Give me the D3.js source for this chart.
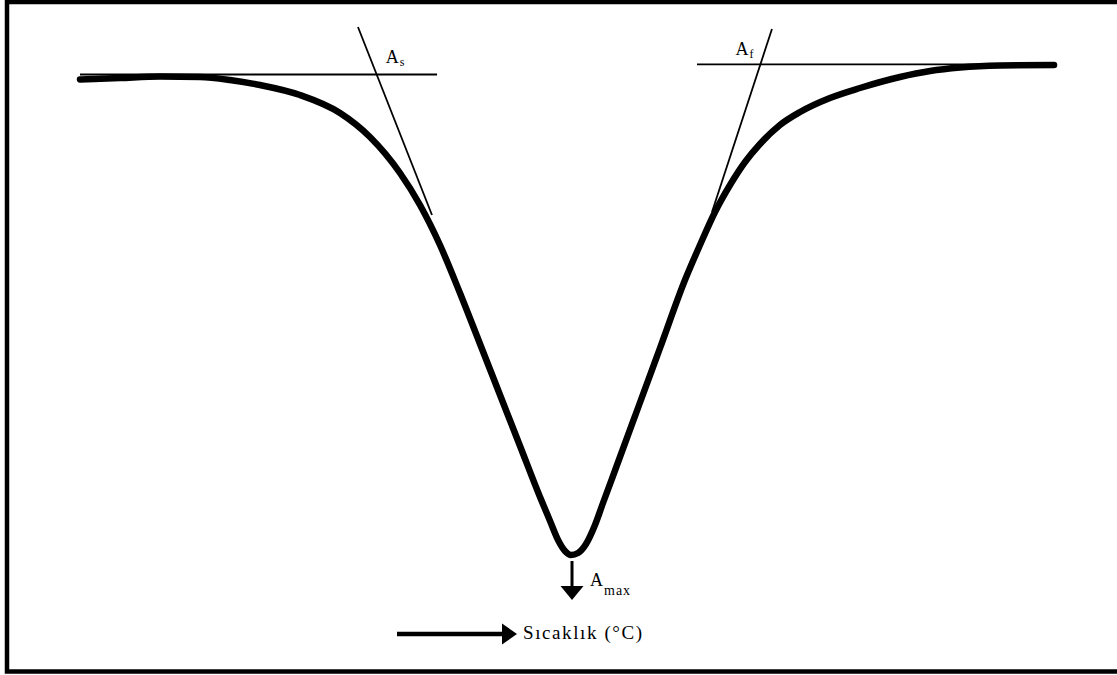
<!DOCTYPE html>
<html>
<head>
<meta charset="utf-8">
<title>DSC eğrisi</title>
<script src="https://cdn.jsdelivr.net/npm/d3@7"></script>
<style>
  html, body { margin: 0; padding: 0; background: #fff; }
  svg { display: block; }
  text { font-family: "Liberation Serif", "Times New Roman", serif; fill: #000; }
</style>
</head>
<body>
<svg id="chart" width="1117" height="675"></svg>
<script>
// Sıcaklık (°C) values of the measured trace
const temperature = [
  20.00, 24.10, 28.21, 32.31, 35.38, 38.46, 42.56, 46.67, 49.74, 52.82,
  54.87, 56.92, 58.97, 61.03, 63.08, 65.13, 67.18, 68.21, 69.03, 69.74,
  70.36, 71.08, 71.90, 72.82, 73.64, 75.08, 77.23, 79.49, 82.05, 83.59,
  85.13, 86.67, 88.21, 89.74, 91.79, 93.85, 96.92, 100.00, 104.10, 107.18,
  110.26, 114.36, 119.90
];
// Heat flow (arbitrary units, endothermic downward)
const heatFlow = [
  -0.195, -0.18, -0.165, -0.17, -0.20, -0.25, -0.35, -0.53, -0.77, -1.13,
  -1.45, -1.85, -2.33, -2.84, -3.35, -3.86, -4.37, -4.61, -4.80, -4.91,
  -4.95, -4.93, -4.84, -4.65, -4.43, -4.05, -3.48, -2.88, -2.20, -1.85,
  -1.52, -1.25, -1.02, -0.84, -0.65, -0.52, -0.38, -0.28, -0.17, -0.11,
  -0.075, -0.055, -0.05
];

// Construction lines: baselines before/after the peak and the inflection tangents
const startBaseline = { t: [20.0, 56.62], h: -0.145 };
const endBaseline   = { t: [83.28, 120.0], h: -0.043 };
const startTangent  = { t: [48.51, 56.10], h: [0.33, -1.55] };
const endTangent    = { t: [90.97, 84.82], h: [0.31, -1.52] };

const labelStart = ["A", "s"];
const labelFinish = ["A", "f"];
const labelPeak = ["A", "max"];
const axisLabel = "Sıcaklık (°C)";

const svg = d3.select("#chart");
const W = 1117, H = 675;

const x = d3.scaleLinear().domain([20, 120]).range([80, 1055]);
const y = d3.scaleLinear().domain([0, -5]).range([60, 560]);

// frame
svg.append("rect")
  .attr("x", 7).attr("y", 2)
  .attr("width", W + 10).attr("height", 669.5)
  .attr("fill", "none").attr("stroke", "#000").attr("stroke-width", 4.5);

// baselines and tangents
function seg(x1, y1, x2, y2, w) {
  svg.append("line")
    .attr("x1", x1).attr("y1", y1).attr("x2", x2).attr("y2", y2)
    .attr("stroke", "#000").attr("stroke-width", w);
}
seg(x(startBaseline.t[0]), y(startBaseline.h), x(startBaseline.t[1]), y(startBaseline.h), 1.8);
seg(x(endBaseline.t[0]), y(endBaseline.h), x(endBaseline.t[1]), y(endBaseline.h), 1.8);
seg(x(startTangent.t[0]), y(startTangent.h[0]), x(startTangent.t[1]), y(startTangent.h[1]), 1.8);
seg(x(endTangent.t[0]), y(endTangent.h[0]), x(endTangent.t[1]), y(endTangent.h[1]), 1.8);

// the measured trace
const pts = temperature.map((t, i) => [t, heatFlow[i]]);
const line = d3.line()
  .x(d => x(d[0]))
  .y(d => y(d[1]))
  .curve(d3.curveMonotoneX);
svg.append("path")
  .datum(pts)
  .attr("d", line)
  .attr("fill", "none")
  .attr("stroke", "#000")
  .attr("stroke-width", 6.5)
  .attr("stroke-linecap", "round")
  .attr("stroke-linejoin", "round");

// intersection of a baseline with a tangent
function cross(base, tan) {
  const x1 = x(tan.t[0]), y1 = y(tan.h[0]), x2 = x(tan.t[1]), y2 = y(tan.h[1]);
  const yb = y(base.h);
  const k = (yb - y1) / (y2 - y1);
  return [x1 + k * (x2 - x1), yb];
}

function subLabel(px, py, parts, big, small, drop) {
  const t = svg.append("text").attr("x", px).attr("y", py)
    .style("font-size", big + "px");
  t.append("tspan").text(parts[0]);
  t.append("tspan").attr("dy", drop).attr("dx", 1)
    .style("font-size", small + "px").text(parts[1]);
  return t;
}

const pS = cross(startBaseline, startTangent);
subLabel(pS[0] + 9, pS[1] - 12, labelStart, 18, 12, 3);
const pF = cross(endBaseline, endTangent);
subLabel(pF[0] - 25, pF[1] - 9, labelFinish, 18, 12, 3);

// peak marker
const iMin = d3.minIndex(heatFlow);
const mx = x(temperature[iMin]) + 1, my = y(heatFlow[iMin]);
svg.append("line")
  .attr("x1", mx).attr("y1", my + 6).attr("x2", mx).attr("y2", my + 33)
  .attr("stroke", "#000").attr("stroke-width", 3);
svg.append("path")
  .attr("d", `M${mx - 11.5},${my + 31} L${mx + 11.5},${my + 31} L${mx},${my + 45} Z`)
  .attr("fill", "#000");
subLabel(mx + 18, my + 31, labelPeak, 18, 14, 9)
  .select("tspan:last-child").style("letter-spacing", "1px");

// temperature direction arrow
const ay = 634;
svg.append("line")
  .attr("x1", 397).attr("y1", ay).attr("x2", 505).attr("y2", ay)
  .attr("stroke", "#000").attr("stroke-width", 4.5);
svg.append("path")
  .attr("d", `M502,${ay - 10.5} L517,${ay} L502,${ay + 10.5} Z`)
  .attr("fill", "#000");
svg.append("text")
  .attr("x", 523).attr("y", 639)
  .style("font-size", "19px")
  .style("letter-spacing", "1.6px")
  .text(axisLabel);
</script>
</body>
</html>
